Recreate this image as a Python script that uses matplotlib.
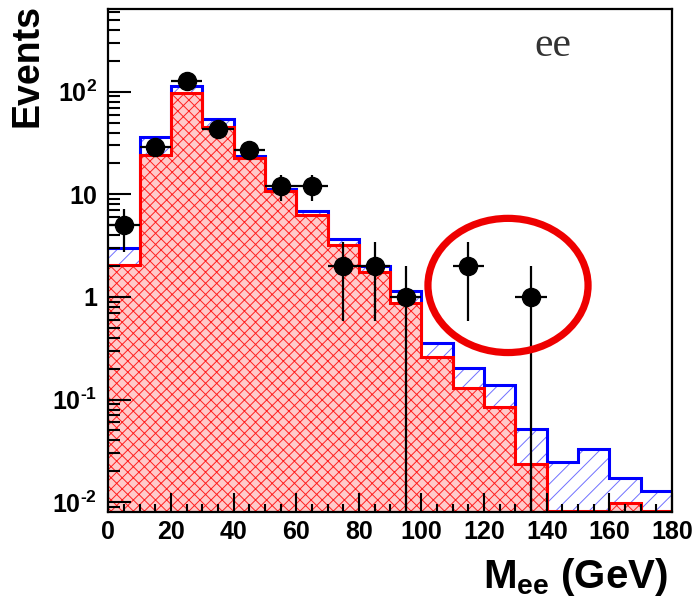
import numpy as np
import matplotlib
matplotlib.use('Agg')
import matplotlib.pyplot as plt
from matplotlib.patches import Ellipse
from matplotlib.ticker import LogLocator, MultipleLocator, NullFormatter

plt.rcParams['font.family'] = ['Liberation Sans', 'DejaVu Sans']
plt.rcParams['font.weight'] = 'bold'
plt.rcParams['mathtext.fontset'] = 'custom'
plt.rcParams['mathtext.rm'] = 'Liberation Sans:bold'
plt.rcParams['mathtext.it'] = 'Liberation Sans:bold'
plt.rcParams['mathtext.bf'] = 'Liberation Sans:bold'
plt.rcParams['hatch.linewidth'] = 0.7

# bin edges in GeV
edges = np.arange(0, 190, 10)

# total background (blue) and main component (red), per bin
total_bkg = [2.98, 36.5, 113.7, 54.2, 23.8, 11.2, 6.93, 3.70, 2.02, 1.15,
             0.354, 0.205, 0.139, 0.0514, 0.0249, 0.0328, 0.0171, 0.0129]
main_bkg = [2.05, 24.2, 96.5, 45.6, 22.4, 10.8, 6.25, 3.21, 1.76, 0.87,
            0.259, 0.129, 0.0853, 0.0236, 0.0083, 0.0083, 0.0099, 0.0083]

# observed events (bin centres, counts)
data_x = [5, 15, 25, 35, 45, 55, 65, 75, 85, 95, 115, 135]
data_n = [5, 29, 128, 43, 27, 12, 12, 2, 2, 1, 2, 1]

ytick_vals = [1e-2, 1e-1, 1, 10, 100]
ytick_labels = [r'$10^{\text{-}2}$', r'$10^{\text{-}1}$', '1', '10', r'$10^{2}$']

fig = plt.figure(figsize=(6.96, 6.04), dpi=100)
ax = fig.add_axes([0.1556, 0.153, 0.81, 0.832])

ax.set_yscale('log')

# blue hatched total
ax.stairs(total_bkg, edges, fill=True, baseline=1e-4, facecolor='white',
          edgecolor='#7070ff', hatch='//', linewidth=0)
ax.stairs(total_bkg, edges, color='#0000ff', linewidth=2.2, baseline=None)

# red dotted component on top
ax.stairs(main_bkg, edges, fill=True, baseline=1e-4, facecolor='#ffcaca',
          edgecolor='#ff2020', hatch='xxx', linewidth=0)
ax.stairs(main_bkg, edges, color='#ff0000', linewidth=2.2, baseline=None)

# data with sqrt(N) errors
data_n = np.array(data_n, dtype=float)
err_up = np.sqrt(data_n)
err_lo = np.minimum(np.sqrt(data_n), data_n * 0.99999)
ax.errorbar(data_x, data_n, xerr=5, yerr=[err_lo, err_up], fmt='o',
            color='black', markersize=13, elinewidth=1.6, capsize=0, zorder=5)

ax.set_xlim(0, 180)
ax.set_ylim(0.0081, 640)

ax.xaxis.set_major_locator(MultipleLocator(20))
ax.xaxis.set_minor_locator(MultipleLocator(5))
ax.set_yticks(ytick_vals)
ax.set_yticklabels(ytick_labels)
ax.yaxis.set_minor_locator(LogLocator(base=10, subs=np.arange(2, 10)))
ax.yaxis.set_minor_formatter(NullFormatter())

ax.tick_params(axis='both', which='both', direction='in', top=False, right=False,
               width=1.5, labelsize=18)
ax.tick_params(axis='y', which='major', length=16.5, pad=8)
ax.tick_params(axis='y', which='minor', length=8.6)
ax.tick_params(axis='x', which='major', length=13.7, pad=6)
ax.tick_params(axis='x', which='minor', length=5.8)
for s in ax.spines.values():
    s.set_linewidth(1.6)

ax.set_ylabel('Events', fontsize=27, fontweight='bold', loc='top')
ax.yaxis.set_label_coords(-0.112, 1.01)
ax.set_xlabel(r'M$_{\mathrm{ee}}$ (GeV)', fontsize=29, fontweight='bold', loc='right')
ax.xaxis.set_label_coords(0.993, -0.088)

ax.text(0.788, 0.927, 'ee', transform=ax.transAxes, fontsize=30,
        family='Liberation Serif', fontweight='normal', ha='center', va='center',
        color='#333333')

ax.add_patch(Ellipse((0.709, 0.450), 0.284, 0.267, transform=ax.transAxes,
                     fill=False, edgecolor='#ee0000', linewidth=5.2,
                     clip_on=False, zorder=6))

fig.savefig('out.png', dpi=100)
